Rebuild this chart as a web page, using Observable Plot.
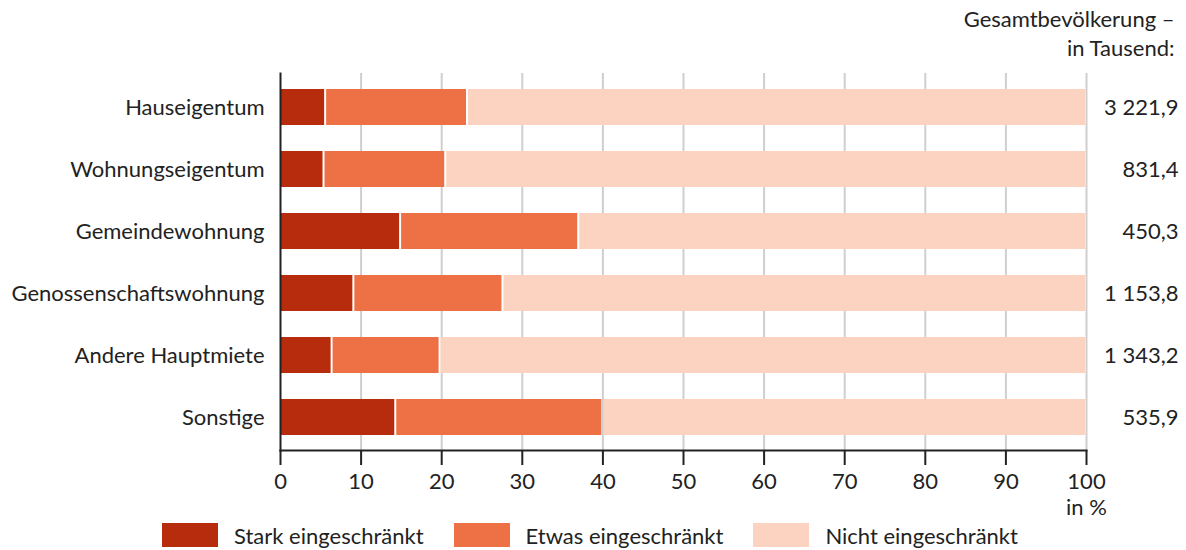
<!DOCTYPE html>
<html>
<head>
<meta charset="utf-8">
<script src="https://cdn.jsdelivr.net/npm/d3@7"></script>
<script src="https://cdn.jsdelivr.net/npm/@observablehq/plot@0.6"></script>
<style>
  body { margin: 0; background: #fff; font-family: Lato, sans-serif; }
  #legend { height: 30px; display: flex; justify-content: center; align-items: center; font-size: 22px; color: #222; padding-right: 6px; }
  .item { display: flex; align-items: center; margin: 0 15px; }
  .sw { width: 56px; height: 24px; margin-right: 16px; }
</style>
</head>
<body>
<div id="chart"></div>
<div id="legend"></div>
<script>
const categories = ["Hauseigentum", "Wohnungseigentum", "Gemeindewohnung", "Genossenschaftswohnung", "Andere Hauptmiete", "Sonstige"];
const seriesNames = ["Stark eingeschränkt", "Etwas eingeschränkt", "Nicht eingeschränkt"];
const stark = [5.6, 5.4, 14.9, 9.1, 6.4, 14.3];
const etwas = [17.6, 15.1, 22.1, 18.5, 13.4, 25.7];
const nicht = [76.8, 79.5, 63.0, 72.4, 80.2, 60.0];
const totals = ["3 221,9", "831,4", "450,3", "1 153,8", "1 343,2", "535,9"];
const xTicks = [0, 10, 20, 30, 40, 50, 60, 70, 80, 90, 100];
const colors = ["#b72c0c", "#ee7045", "#fcd3c0"];

const seriesValues = [stark, etwas, nicht];
const rows = [];
categories.forEach((c, i) => {
  seriesNames.forEach((s, j) => rows.push({cat: c, series: s, value: seriesValues[j][i]}));
});
const totalRows = categories.map((c, i) => ({cat: c, total: totals[i]}));

const plot = Plot.plot({
  width: 1186,
  height: 520,
  marginLeft: 280,
  marginRight: 100,
  marginTop: 73,
  marginBottom: 70,
  style: {fontFamily: "Lato, sans-serif", fontSize: "22px", color: "#222", background: "#fff"},
  x: {domain: [0, 100], ticks: xTicks},
  y: {domain: categories, paddingInner: 0.426, paddingOuter: 0.213, label: null},
  color: {domain: seriesNames, range: colors},
  marks: [
    Plot.gridX(xTicks.slice(1), {stroke: "#cfcfcf", strokeOpacity: 1, strokeWidth: 2}),
    Plot.barX(rows, Plot.stackX({x: "value", y: "cat", fill: "series", insetLeft: 1, insetRight: 1})),
    Plot.axisX({ticks: xTicks, tickSize: 15, tickPadding: 8, strokeWidth: 2, stroke: "#222", label: null, fontSize: 22}),
    Plot.axisY({tickSize: 0, tickPadding: 16, label: null, fontSize: 22}),
    Plot.frame({anchor: "bottom", stroke: "#222", strokeWidth: 2}),
    Plot.frame({anchor: "left", stroke: "#222", strokeWidth: 2}),
    Plot.text(totalRows, {x: () => 100, y: "cat", text: "total", dx: 92, textAnchor: "end", fill: "#222"}),
    Plot.text(["Gesamtbevölkerung –\nin Tausend:"], {frameAnchor: "top-right", dx: 88, dy: -18, textAnchor: "end", lineAnchor: "bottom", lineHeight: 1.3, fill: "#222"}),
    Plot.text(["in %"], {x: () => 100, text: d => d, frameAnchor: "bottom", dy: 64, fill: "#222"})
  ]
});
document.getElementById("chart").appendChild(plot);

const legend = document.getElementById("legend");
seriesNames.forEach((s, i) => {
  const item = document.createElement("div");
  item.className = "item";
  const sw = document.createElement("div");
  sw.className = "sw";
  sw.style.background = colors[i];
  const t = document.createElement("span");
  t.textContent = s;
  item.appendChild(sw);
  item.appendChild(t);
  legend.appendChild(item);
});
</script>
</body>
</html>
